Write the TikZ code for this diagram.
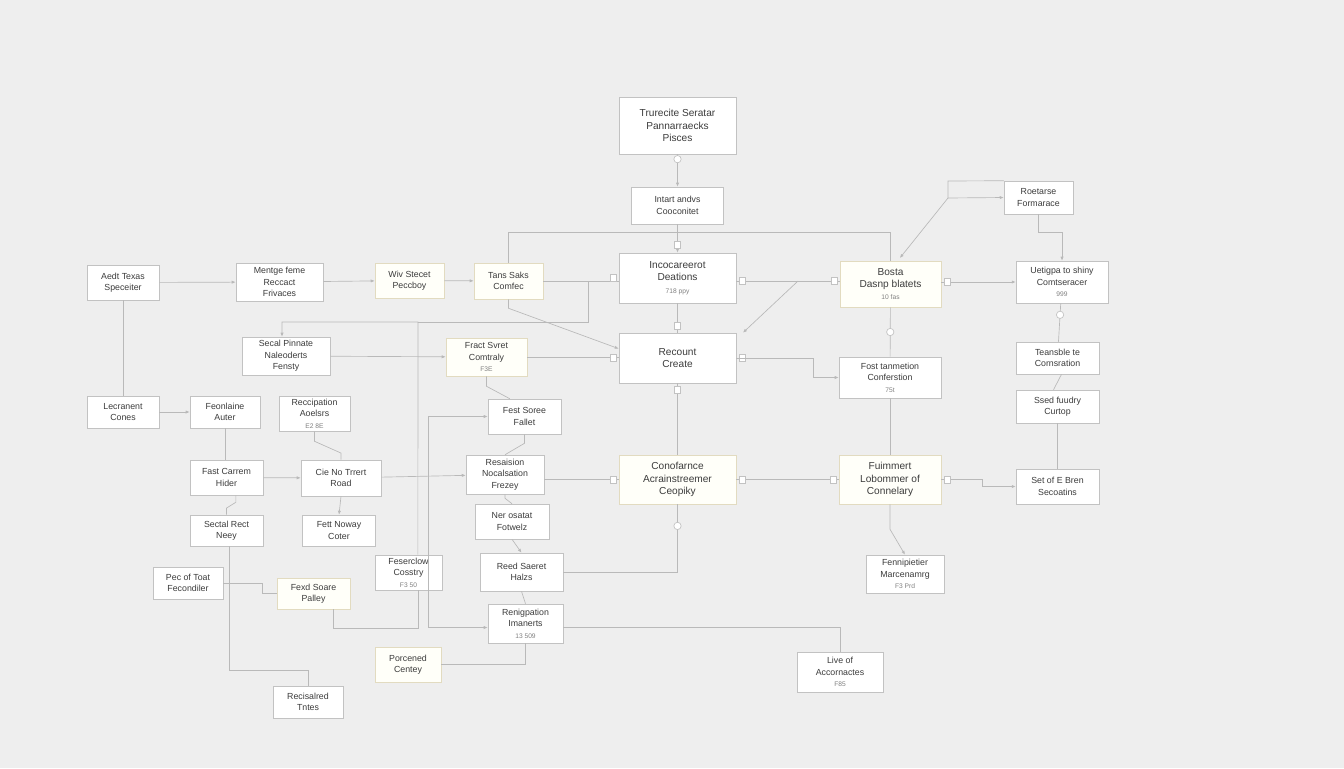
\documentclass[tikz,border=0pt]{standalone}
\usepackage{fontspec}
\setmainfont{Liberation Sans}
\usetikzlibrary{positioning,arrows.meta}

\definecolor{bggray}{HTML}{EEEEEE}
\definecolor{boxline}{HTML}{C2C2C2}
\definecolor{wireline}{HTML}{B9B9B9}
\definecolor{creamline}{HTML}{E2DBC0}
\definecolor{creamfill}{HTML}{FFFFF9}
\definecolor{inkgray}{HTML}{3C3C3C}

\newcommand{\subnum}[1]{{\fontsize{5}{5.5}\selectfont\color{gray}#1}}

\tikzset{
  box/.style={draw=boxline, fill=white, align=center, inner sep=1pt,
    text=inkgray, font=\fontsize{6.6}{8.6}\selectfont},
  bigbox/.style={box, font=\fontsize{7.6}{9.3}\selectfont},
  cream/.style={draw=creamline, fill=creamfill},
  wh/.style 2 args={minimum width=#1*0.75pt, minimum height=#2*0.75pt},
  line/.style={draw=wireline, line width=0.5pt},
  arr/.style={line, -{Latex[length=3pt,width=2.4pt]}},
  port/.style={draw=boxline, fill=white, minimum width=4.5pt, minimum height=5.5pt, inner sep=0pt},
  knob/.style={circle, draw=boxline, fill=white, minimum size=5.5pt, inner sep=0pt}
}

\begin{document}
\begin{tikzpicture}[x=0.75pt, y=-0.75pt]
  \useasboundingbox[fill=bggray] (0,0) rectangle (1344,768);

  % centre column
  \node [bigbox, wh={117}{57}] (proc) at (677.5,125.5) {Trurecite Seratar\\Pannarraecks\\Pisces};
  \node [box, wh={92}{37}] (intart) at (677.5,205.5) {Intart andvs\\Cooconitet};
  \node [bigbox, wh={117}{50}] (incoc) at (677.5,278) {Incocareerot\\Deations\\\subnum{718 ppy}};
  \node [bigbox, wh={117}{50}] (recount) at (677.5,358) {Recount\\Create};
  \node [bigbox, cream, wh={117}{49}] (conof) at (677.5,479.5) {Conofarnce\\Acrainstreemer\\Ceopiky};

  % right side
  \node [bigbox, cream, wh={101}{46}] (bosta) at (890.5,284) {Bosta\\Dasnp blatets\\\subnum{10 fas}};
  \node [box, wh={69}{33}] (roetarse) at (1038.5,197.5) {Roetarse\\Formarace};
  \node [box, wh={92}{42}] (uetigpa) at (1062,282) {Uetigpa to shiny\\Comtseracer\\\subnum{999}};
  \node [box, wh={83}{32}] (teansble) at (1057.5,358) {Teansble te\\Cornsration};
  \node [box, wh={83}{33}] (ssed) at (1057.5,406.5) {Ssed fuudry\\Curtop};
  \node [box, wh={102}{41}] (fost) at (890,377.5) {Fost tanmetion\\Conferstion\\\subnum{75t}};
  \node [bigbox, cream, wh={102}{49}] (fuimmert) at (890,479.5) {Fuimmert\\Lobommer of\\Connelary};
  \node [box, wh={83}{35}] (setof) at (1057.5,486.5) {Set of E Bren\\Secoatins};
  \node [box, wh={78}{38}] (fennip) at (905,574) {Fennipietier\\Marcenamrg\\\subnum{F3 Prd}};
  \node [box, wh={86}{40}] (liveof) at (840,672) {Live of\\Accornactes\\\subnum{F85}};

  % left side
  \node [box, wh={72}{35}] (aedt) at (123,282.5) {Aedt Texas\\Speceiter};
  \node [box, wh={87}{38}] (mentge) at (279.5,282) {Mentge feme\\Reccact\\Frivaces};
  \node [box, cream, wh={69}{35}] (wiv) at (409.5,280.5) {Wiv Stecet\\Peccboy};
  \node [box, cream, wh={69}{36}] (tans) at (508.5,281) {Tans Saks\\Comfec};
  \node [box, wh={88}{38}] (secal) at (286,356) {Secal Pinnate\\Naleoderts\\Fensty};
  \node [box, cream, wh={81}{38}] (fract) at (486.5,357) {Fract Svret\\Comtraly\\\subnum{F3E}};
  \node [box, wh={72}{32}] (lecran) at (123,412) {Lecranent\\Cones};
  \node [box, wh={70}{32}] (feonl) at (225,412) {Feonlaine\\Auter};
  \node [box, wh={71}{35}] (reccip) at (314.5,413.5) {Reccipation\\Aoelsrs\\\subnum{E2 8E}};
  \node [box, wh={73}{35}] (festsor) at (524.5,416.5) {Fest Soree\\Fallet};
  \node [box, wh={73}{35}] (fastcar) at (226.5,477.5) {Fast Carrem\\Hider};
  \node [box, wh={80}{36}] (cieno) at (341,478) {Cie No Trrert\\Road};
  \node [box, wh={78}{39}] (resais) at (505,474.5) {Resaision\\Nocalsation\\Frezey};
  \node [box, wh={73}{31}] (sectal) at (226.5,530.5) {Sectal Rect\\Neey};
  \node [box, wh={73}{31}] (fett) at (339,530.5) {Fett Noway\\Coter};
  \node [box, wh={74}{35}] (nerosa) at (512,521.5) {Ner osatat\\Fotwelz};
  \node [box, wh={67}{35}] (feserc) at (408.5,572.5) {Feserclow\\Cosstry\\\subnum{F3 50}};
  \node [box, wh={83}{38}] (reed) at (521.5,572) {Reed Saeret\\Halzs};
  \node [box, wh={70}{32}] (pecof) at (188,583) {Pec of Toat\\Fecondiler};
  \node [box, cream, wh={73}{31}] (fexd) at (313.5,593.5) {Fexd Soare\\Palley};
  \node [box, wh={75}{39}] (renig) at (525.5,623.5) {Renigpation\\Imanerts\\\subnum{13 509}};
  \node [box, cream, wh={66}{35}] (porcen) at (408,664.5) {Porcened\\Centey};
  \node [box, wh={70}{32}] (recis) at (308,702) {Recisalred\\Tntes};

  % helper points
  \coordinate (fork) at (798,281);
  \coordinate (join) at (588,281);
  \coordinate (busA) at (418,322);
  \coordinate (loopL) at (428,520);
  \coordinate (kink) at (948,198);

  % centre column wires
  \draw [arr] (proc) -- node [knob, pos=0.15] {} (intart);
  \draw [arr] (intart) -- node [port, pos=0.72] {} (incoc);
  \draw [line] (incoc) -- node [port, pos=0.77] {} (recount);
  \draw [line] (recount) -- node [port, pos=0.09] {} (conof);
  \draw [line] (tans.north) -- ++(0,-30) -| (bosta.north);

  % top row
  \draw [arr] (aedt) -- (mentge);
  \draw [arr] (mentge) -- (wiv);
  \draw [arr] (wiv) -- (tans);
  \draw [line] (tans.east) -- (tans.east -| incoc.west);
  \node [port, left=2pt of incoc.west] {};
  \draw [line] (incoc.east |- tans.east) -- (tans.east -| bosta.west);
  \node [port, right=2pt of incoc.east |- tans.east] {};
  \node [port, left=2pt of bosta.west |- tans.east] {};
  \draw [arr] (fork) -- ([xshift=5pt]recount.north east);
  \draw [arr] (tans.south) -- ++(0,9) -- ([yshift=7pt]recount.west);

  % recount row
  \draw [arr] (secal) -- (fract);
  \draw [line] (fract.east) -- (fract.east -| recount.west);
  \node [port, left=2pt of recount.west] {};
  \node [port, right=2pt of recount.east] {};
  \draw [arr] (recount.east) -- ++(77,0) |- (fost.west);
  \draw [arr] ([xshift=7pt]feserc.north) -- (busA) -| ([xshift=-3pt]secal.north);
  \draw [line] (busA) -| (join);

  % right block
  \draw [line] (bosta) -- node [knob] {} (fost);
  \draw [line] (fost) -- (fuimmert);
  \draw [arr] (fuimmert.south) -- ++(0,25) -- (fennip.north);
  \draw [arr] (kink) -- ([xshift=7pt,yshift=2pt]bosta.north);
  \draw [arr] (kink) -- (roetarse.west);
  \draw [line] (kink) -- ++(0,-17) -- (roetarse.north west);
  \draw [arr] (roetarse.south) -- ++(0,18) -| (uetigpa.north);
  \draw [arr] (bosta.east |- uetigpa.west) -- (uetigpa.west);
  \node [port, right=2pt of bosta.east |- uetigpa.west] {};
  \draw [line] (uetigpa) -- node [knob, pos=0.3] {} (teansble);
  \draw [line] ([xshift=3pt]teansble.south) -- ([xshift=-3pt]ssed.north);
  \draw [line] (ssed) -- (setof);
  \draw [arr] (fuimmert.east) -- ++(41,0) |- (setof.west);

  % conformance row
  \draw [arr] (cieno) -- (resais);
  \draw [line] (resais.east |- conof.west) -- (conof.west);
  \node [port, left=2pt of conof.west] {};
  \draw [line] (conof) -- (fuimmert);
  \node [port, right=2pt of conof.east] {};
  \node [port, left=2pt of fuimmert.west] {};
  \node [port, right=2pt of fuimmert.east] {};

  % middle chain
  \draw [line] (fract.south) -- ++(0,10) -- ([xshift=-11pt]festsor.north);
  \draw [line] (festsor.south) -- ++(0,9) -- (resais.north);
  \draw [line] (resais.south) -- ++(0,4) -- (nerosa.north);
  \draw [arr] (nerosa.south) -- (reed.north);
  \draw [line] (reed.south) -- (renig.north);
  \draw [line] (reed.east) -| node [knob, pos=0.84] {} (conof.south);
  \draw [line] ([yshift=-3pt]renig.east) -| (liveof.north);
  \draw [line] (renig.south) |- (porcen.east);
  \draw [arr] (loopL) |- (festsor.west);
  \draw [arr] (loopL) |- ([yshift=-3pt]renig.west);
  \draw [line] ([xshift=7pt]feserc.south) -- ++(0,38) -| ([xshift=15pt]fexd.south);

  % left block
  \draw [line] (aedt) -- (lecran);
  \draw [arr] (lecran) -- (feonl);
  \draw [line] (feonl.south) -- (feonl.south |- fastcar.north);
  \draw [line] (reccip.south) -- ++(0,10) -- ([yshift=5pt]cieno.north) -- (cieno.north);
  \draw [arr] (fastcar) -- (cieno);
  \draw [arr] (cieno.south) -- (fett.north);
  \draw [line] ([xshift=7pt]fastcar.south) -- ++(0,7) -- ([yshift=5pt]sectal.north) -- (sectal.north);
  \draw [line] ([xshift=2pt]sectal.south) -- ++(0,124) -| (recis.north);
  \draw [line] (pecof.east) -- ++(39,0) |- (fexd.west);
\end{tikzpicture}
\end{document}
